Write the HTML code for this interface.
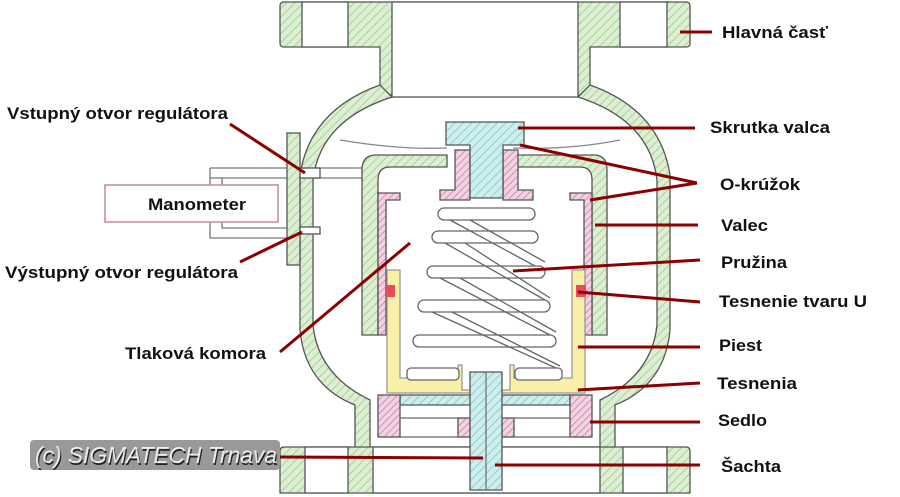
<!DOCTYPE html>
<html><head><meta charset="utf-8"><style>
html,body{margin:0;padding:0;background:#fff;width:900px;height:497px;overflow:hidden}
svg{display:block}
text{font-family:"Liberation Sans",sans-serif;font-weight:bold;font-size:17px;fill:#111}
</style></head><body>
<svg width="900" height="497" viewBox="0 0 900 497" xmlns="http://www.w3.org/2000/svg">
<defs>
<pattern id="g" width="6" height="6" patternUnits="userSpaceOnUse" patternTransform="rotate(45)"><rect width="6" height="6" fill="#dcefd2"/><line x1="0" y1="0" x2="0" y2="6" stroke="#a9d19a" stroke-width="2"/></pattern>
<pattern id="c" width="6" height="6" patternUnits="userSpaceOnUse" patternTransform="rotate(45)"><rect width="6" height="6" fill="#cdeeee"/><line x1="0" y1="0" x2="0" y2="6" stroke="#92cccc" stroke-width="2"/></pattern>
<pattern id="p" width="5" height="5" patternUnits="userSpaceOnUse" patternTransform="rotate(45)"><rect width="5" height="5" fill="#f3d3e3"/><line x1="0" y1="0" x2="0" y2="5" stroke="#cf8fb0" stroke-width="2"/></pattern>
</defs>
<g stroke="#555" stroke-width="1.3">
<path d="M210 168 H362 M210 178 H362 M210 168 V238 H300 M222 178 V228 H300" fill="none" stroke="#777"/>
<rect x="105" y="185" width="173" height="37" fill="#fff" stroke="#c08a9a" stroke-width="1.5"/>
<path d="M282 2 H686 Q690 2 690 6 V44 Q690 47 686 47 H590 V95 H380 V47 H284 Q280 47 280 43 V6 Q280 2 284 2 Z" fill="url(#g)"/>
<rect x="302" y="2" width="46" height="45" fill="#fff"/>
<rect x="620" y="2" width="47" height="45" fill="#fff"/>
<rect x="392" y="2" width="186" height="95" fill="#fff"/>
<path d="M380 85 Q310 110 300 175 V330 Q305 385 355 405 V450 H370 V400 Q318 375 313 325 V180 Q320 120 392 97 Z" fill="url(#g)"/>
<path d="M590 85 Q660 110 670 175 V330 Q665 385 615 405 V450 H600 V400 Q652 375 657 325 V180 Q650 120 578 97 Z" fill="url(#g)"/>
<rect x="287" y="133" width="13" height="132" fill="url(#g)"/>
<rect x="300" y="168" width="20" height="10" fill="#fff"/>
<rect x="300" y="227" width="20" height="7" fill="#fff"/>
<path d="M284 447 H686 Q690 447 690 451 V493 H280 V451 Q280 447 284 447 Z" fill="url(#g)"/>
<rect x="305" y="447" width="43" height="46" fill="#fff"/>
<rect x="373" y="447" width="227" height="46" fill="#fff"/>
<rect x="623" y="447" width="44" height="46" fill="#fff"/>
<path d="M376 155 H447 V167 H390 Q378 167 378 180 V335 H362 V170 Q362 155 376 155 Z" fill="url(#g)"/>
<path d="M594 155 H513 V167 H580 Q592 167 592 180 V335 H607 V170 Q607 155 594 155 Z" fill="url(#g)"/>
<path d="M340 140 Q400 150 447 148 M513 148 Q570 150 620 140" fill="none" stroke="#888"/>
<path d="M378 193 H400 V200 H386 V335 H378 Z" fill="url(#p)"/>
<path d="M592 193 H570 V200 H584 V335 H592 Z" fill="url(#p)"/>
<path d="M455 150 H470 V200 H440 V190 H455 Z" fill="url(#p)"/>
<path d="M518 150 H503 V200 H533 V190 H518 Z" fill="url(#p)"/>
<path d="M446 122 H524 V145 H503 V198 H470 V145 H446 Z" fill="url(#c)"/>
<path d="M387 270 H400 V378 H458 V365 H462 V390 H510 V365 H514 V378 H572 V270 H585 V393 H387 Z" fill="#f7f0a6" stroke="#999"/>
<rect x="385" y="285" width="10" height="12" fill="#e84a5a" stroke="none"/>
<rect x="576" y="285" width="10" height="12" fill="#e84a5a" stroke="none"/>
<g fill="#fff" stroke="#666">
<rect x="438" y="208" width="97" height="12" rx="6"/>
<rect x="432" y="231" width="106" height="12" rx="6"/>
<rect x="427" y="266" width="118" height="12" rx="6"/>
<rect x="418" y="300" width="132" height="12" rx="6"/>
<rect x="413" y="335" width="143" height="12" rx="6"/>
<rect x="407" y="368" width="52" height="12" rx="4"/>
<rect x="515" y="368" width="47" height="12" rx="4"/>
</g>
<path d="M450 220 L535 266 M470 220 L545 262 M445 243 L545 300 M465 243 L550 298 M440 278 L550 335 M460 278 L556 332 M432 312 L556 368 M452 312 L560 366" stroke="#666" fill="none"/>
<path d="M400 395 H570 V405 H400 Z" fill="url(#c)"/>
<rect x="378" y="395" width="22" height="42" fill="url(#p)"/>
<rect x="570" y="395" width="22" height="42" fill="url(#p)"/>
<rect x="458" y="418" width="12" height="19" fill="url(#p)"/>
<rect x="502" y="418" width="12" height="19" fill="url(#p)"/>
<path d="M400 418 H570 M400 437 H570" stroke="#666" fill="none"/>
<path d="M470 372 H502 V490 H470 Z" fill="url(#c)"/>
<line x1="486" y1="372" x2="486" y2="490" stroke="#777"/>
</g>
<g stroke="#8b0000" stroke-width="3" fill="none">
<line x1="680" y1="32" x2="712" y2="32"/>
<line x1="518" y1="128" x2="695" y2="128"/>
<line x1="520" y1="145" x2="697" y2="183"/>
<line x1="590" y1="200" x2="697" y2="183"/>
<line x1="595" y1="225" x2="698" y2="225"/>
<line x1="513" y1="271" x2="700" y2="260"/>
<line x1="578" y1="292" x2="700" y2="302"/>
<line x1="578" y1="347" x2="700" y2="347"/>
<line x1="578" y1="390" x2="700" y2="383"/>
<line x1="590" y1="422" x2="700" y2="422"/>
<line x1="495" y1="465" x2="700" y2="465"/>
<line x1="230" y1="124" x2="305" y2="173"/>
<line x1="240" y1="262" x2="302" y2="232"/>
<line x1="280" y1="352" x2="410" y2="243"/>
<line x1="280" y1="457" x2="483" y2="458"/>
</g>
<text x="722" y="38" textLength="106" lengthAdjust="spacingAndGlyphs">Hlavná časť</text>
<text x="710" y="133" textLength="120" lengthAdjust="spacingAndGlyphs">Skrutka valca</text>
<text x="720" y="190" textLength="80" lengthAdjust="spacingAndGlyphs">O-krúžok</text>
<text x="721" y="231" textLength="47" lengthAdjust="spacingAndGlyphs">Valec</text>
<text x="721" y="268" textLength="66" lengthAdjust="spacingAndGlyphs">Pružina</text>
<text x="719" y="307" textLength="148" lengthAdjust="spacingAndGlyphs">Tesnenie tvaru U</text>
<text x="719" y="351" textLength="43" lengthAdjust="spacingAndGlyphs">Piest</text>
<text x="717" y="389" textLength="80" lengthAdjust="spacingAndGlyphs">Tesnenia</text>
<text x="718" y="426" textLength="49" lengthAdjust="spacingAndGlyphs">Sedlo</text>
<text x="721" y="472" textLength="60" lengthAdjust="spacingAndGlyphs">Šachta</text>
<text x="7" y="119" textLength="221" lengthAdjust="spacingAndGlyphs">Vstupný otvor regulátora</text>
<text x="5" y="278" textLength="233" lengthAdjust="spacingAndGlyphs">Výstupný otvor  regulátora</text>
<text x="125" y="359" textLength="141" lengthAdjust="spacingAndGlyphs">Tlaková komora</text>
<text x="148" y="210" textLength="98" lengthAdjust="spacingAndGlyphs">Manometer</text>
<rect x="30" y="440" width="250" height="30" rx="4" fill="#999"/>
<text x="36" y="465" textLength="242" lengthAdjust="spacingAndGlyphs" style="font-weight:normal;font-style:italic;font-size:23px;fill:#222">(c) SIGMATECH Trnava</text>
<text x="35" y="463" textLength="242" lengthAdjust="spacingAndGlyphs" style="font-weight:normal;font-style:italic;font-size:23px;fill:#fff;opacity:.85">(c) SIGMATECH Trnava</text>
</svg>
</body></html>
